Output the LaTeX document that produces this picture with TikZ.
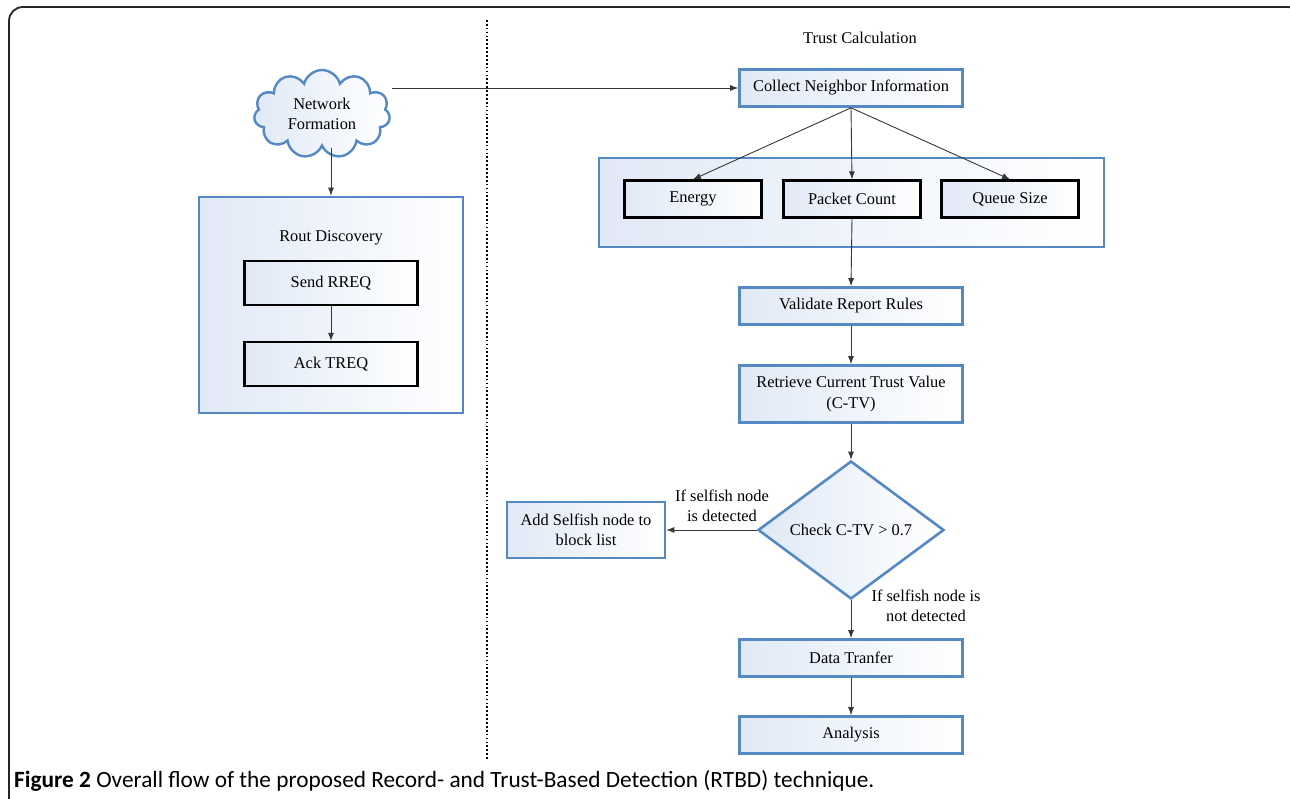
\documentclass[tikz,border=0pt]{standalone}
\usepackage{fontspec}
\setmainfont{Liberation Serif}
\newfontfamily\capfont{Carlito}
\usetikzlibrary{shapes.geometric,shapes.symbols,arrows.meta}
\definecolor{boxblue}{RGB}{84,137,196}
\definecolor{fillblue}{RGB}{224,233,246}
\definecolor{linegray}{RGB}{55,55,55}
\tikzset{
  bluebox/.style={draw=boxblue, line width=2.6pt, left color=fillblue, right color=white,
    minimum width=223pt, minimum height=37pt, align=center, inner sep=0pt},
  blackbox/.style={draw=black, line width=2.2pt, left color=fillblue, right color=white,
    minimum width=137pt, minimum height=37pt, align=center, inner sep=0pt},
  flow/.style={-{Latex[length=8pt,width=6pt]}, line width=0.9pt, draw=linegray},
  lbl/.style={align=center, inner sep=0pt},
}
\begin{document}
\begin{tikzpicture}[x=1pt, y=-1pt, font=\fontsize{16.4}{20.5}\selectfont]
  \useasboundingbox (0,0) rectangle (1290,799);
  \clip (0,0) rectangle (1290,799);

  % Frame and divider
  \draw[line width=1.8pt, rounded corners=14pt, draw=black!85] (9,7) rectangle (1302,830);
  \draw[line width=1.7pt, dash pattern=on 1.7pt off 2.2pt] (487,20) -- (487,760);

  % Left side: network formation and route discovery
  \node[cloud, cloud puffs=11, aspect=1.6, draw=boxblue, line width=2.4pt,
        left color=fillblue, right color=white, minimum width=136pt, minimum height=88pt,
        align=center, inner sep=0pt] (net) at (322,114) {Network\\Formation};
  \coordinate (netout) at (392,88);

  \node[bluebox, minimum width=264pt, minimum height=216pt] (rout) at (331,305) {};
  \node[lbl] (routlbl) at (331,238) {Rout Discovery};
  \node[blackbox, minimum width=173pt, minimum height=44pt] (rreq) at (331,283) {Send RREQ};
  \node[blackbox, minimum width=173pt, minimum height=44pt] (treq) at (331,364) {Ack TREQ};

  % Right side: trust calculation
  \node[lbl] (title) at (860,38) {Trust Calculation};
  \node[bluebox] (collect) at (851,88) {Collect Neighbor Information};

  \node[bluebox, minimum width=505pt, minimum height=89pt] (params) at (851.5,202.5) {};
  \node[blackbox] (energy) at (693,199) {Energy};
  \node[blackbox] (packet) at (852,199) {Packet Count};
  \node[blackbox] (queue) at (1010,199) {Queue Size};

  \node[bluebox] (validate) at (851,306) {Validate Report Rules};
  \node[bluebox, minimum height=57pt] (retrieve) at (851,394) {Retrieve Current Trust Value\\(C-TV)};
  \node[diamond, aspect=1.35, draw=boxblue, line width=2.6pt, left color=fillblue, right color=white,
        minimum width=186pt, minimum height=138pt, inner sep=0pt] (check) at (851,530) {Check C-TV > 0.7};
  \node[bluebox, minimum width=158pt, minimum height=56pt] (block) at (586,530) {Add Selfish node to\\block list};
  \node[bluebox] (transfer) at (851,658) {Data Tranfer};
  \node[bluebox] (analysis) at (851,735) {Analysis};

  \node[lbl] (det) at (722,506) {If selfish node\\is detected};
  \node[lbl] (notdet) at (926,606) {If selfish node is\\not detected};

  % Connectors
  \draw[flow] (net.south -| rout.north) -- (rout.north);
  \draw[flow] (rreq) -- (treq);
  \draw[flow] (netout) -- (collect.west);
  \draw[flow] (collect.south) -- (energy.north);
  \draw[flow] (collect.south) -- (packet.north);
  \draw[flow] (collect.south) -- (queue.north);
  \draw[flow] (packet.south) -- (validate.north);
  \draw[flow] (validate) -- (retrieve);
  \draw[flow] (retrieve) -- (check.north);
  \draw[flow] (check.west) -- (block.east);
  \draw[flow] (check.south) -- (transfer.north);
  \draw[flow] (transfer) -- (analysis);

  % Caption
  \node[anchor=base west, inner sep=0pt, text=black,
        font=\capfont\fontsize{23.3}{27}\selectfont] (caption) at (14,787)
    {\textbf{Figure 2} Overall flow of the proposed Record- and Trust-Based Detection (RTBD) technique.};
\end{tikzpicture}
\end{document}
